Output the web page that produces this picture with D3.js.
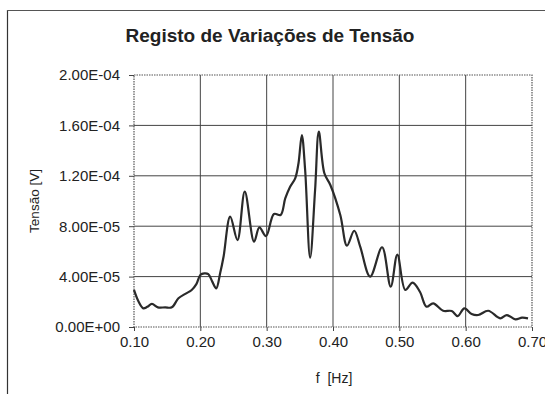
<!DOCTYPE html>
<html><head><meta charset="utf-8">
<script src="https://cdn.jsdelivr.net/npm/d3@7"></script>
<style>body{margin:0;background:#fff}svg{display:block}text{font-family:"Liberation Sans",Arial,sans-serif;fill:#222}</style>
</head><body><svg id="c" width="545" height="394"></svg>
<script>
const title = "Registo de Variações de Tensão";
const xLabel = "f  [Hz]";
const yLabel = "Tensão [V]";
const xTicks = [0.10,0.20,0.30,0.40,0.50,0.60,0.70];
const yTicks = [0,4e-5,8e-5,1.2e-4,1.6e-4,2e-4];
const freq = [0.100,0.107,0.114,0.120,0.127,0.136,0.147,0.157,0.167,0.178,0.187,0.194,0.200,0.206,0.212,0.218,0.224,0.230,0.235,0.245,0.256,0.267,0.281,0.289,0.299,0.311,0.321,0.328,0.335,0.343,0.348,0.353,0.358,0.3655,0.373,0.3786,0.387,0.396,0.411,0.421,0.432,0.441,0.456,0.474,0.487,0.497,0.509,0.520,0.531,0.541,0.551,0.566,0.579,0.588,0.598,0.609,0.619,0.634,0.652,0.662,0.675,0.685,0.694];
const tension = [2.94e-5,2.0e-5,1.48e-5,1.6e-5,1.83e-5,1.56e-5,1.56e-5,1.56e-5,2.28e-5,2.65e-5,2.94e-5,3.4e-5,4.13e-5,4.25e-5,4.2e-5,3.6e-5,3.07e-5,4.3e-5,5.58e-5,8.76e-5,6.9e-5,1.074e-4,6.77e-5,7.9e-5,7.22e-5,8.97e-5,8.89e-5,1.02e-4,1.11e-4,1.18e-4,1.30e-4,1.524e-4,1.246e-4,5.5e-5,1.087e-4,1.55e-4,1.22e-4,1.127e-4,8.89e-5,6.46e-5,7.64e-5,6.38e-5,4.0e-5,6.33e-5,3.2e-5,5.75e-5,2.94e-5,3.52e-5,2.8e-5,1.61e-5,1.88e-5,1.29e-5,1.27e-5,8.7e-6,1.48e-5,1.03e-5,9.5e-6,1.29e-5,6.9e-6,9.5e-6,6.1e-6,7.4e-6,6.9e-6];

const svg = d3.select("#c");
const L=134, R=532, T=75, B=327;
const x = d3.scaleLinear().domain([0.10,0.70]).range([L,R]);
const y = d3.scaleLinear().domain([0,2e-4]).range([B,T]);

// outer frame (left and top edges)
svg.append("line").attr("x1",7.5).attr("x2",7.5).attr("y1",10).attr("y2",394).attr("stroke","#333").attr("stroke-width",1.2);
svg.append("line").attr("x1",7).attr("x2",545).attr("y1",10.5).attr("y2",10.5).attr("stroke","#555").attr("stroke-width",1);

svg.append("text").attr("x",270).attr("y",42).attr("text-anchor","middle")
  .style("font-size","19px").style("font-weight","bold").text(title);

// gridlines
const g = svg.append("g");
g.selectAll(".gx").data(xTicks.slice(1,-1)).enter().append("line")
  .attr("x1",d=>x(d)).attr("x2",d=>x(d)).attr("y1",T).attr("y2",B)
  .attr("stroke","#444").attr("stroke-width",1);
g.selectAll(".gy").data(yTicks.slice(1,-1)).enter().append("line")
  .attr("x1",L).attr("x2",R).attr("y1",d=>y(d)).attr("y2",d=>y(d))
  .attr("stroke","#444").attr("stroke-width",1);
// plot frame
svg.append("rect").attr("x",L).attr("y",T).attr("width",R-L).attr("height",B-T)
  .attr("fill","none").attr("stroke","#555").attr("stroke-width",1.2).attr("stroke-dasharray","1.5,1");

// axes
const xa = svg.append("g").attr("transform",`translate(0,${B})`)
  .call(d3.axisBottom(x).tickValues(xTicks).tickFormat(d3.format(".2f")).tickSize(4).tickPadding(5));
const fmtE = d => { if(d===0) return "0.00E+00"; const e=Math.floor(Math.log10(d)+1e-9); const m=d/Math.pow(10,e); return m.toFixed(2)+"E"+(e<0?"-":"+")+String(Math.abs(e)).padStart(2,"0"); };
const ya = svg.append("g").attr("transform",`translate(${L},0)`)
  .call(d3.axisLeft(y).tickValues(yTicks).tickFormat(fmtE).tickSize(5).tickPadding(9));
[xa,ya].forEach(a=>{a.select(".domain").remove();a.selectAll("line").attr("stroke","#444");a.selectAll("text").style("font-size","15px").attr("fill","#222").style("font-family","'Liberation Sans',Arial,sans-serif");});

svg.append("text").attr("x",334).attr("y",383).attr("text-anchor","middle").style("font-size","14px").style("white-space","pre").text(xLabel);
svg.append("text").attr("transform","translate(39,201) rotate(-90)").attr("text-anchor","middle").style("font-size","13.5px").text(yLabel);

// data line
const line = d3.line().x((d,i)=>x(freq[i])).y(d=>y(d)).curve(d3.curveCatmullRom.alpha(0.5));
svg.append("path").datum(tension).attr("d",line).attr("fill","none").attr("stroke","#2a2a2a").attr("stroke-width",2.2).attr("stroke-linejoin","round");
</script></body></html>
